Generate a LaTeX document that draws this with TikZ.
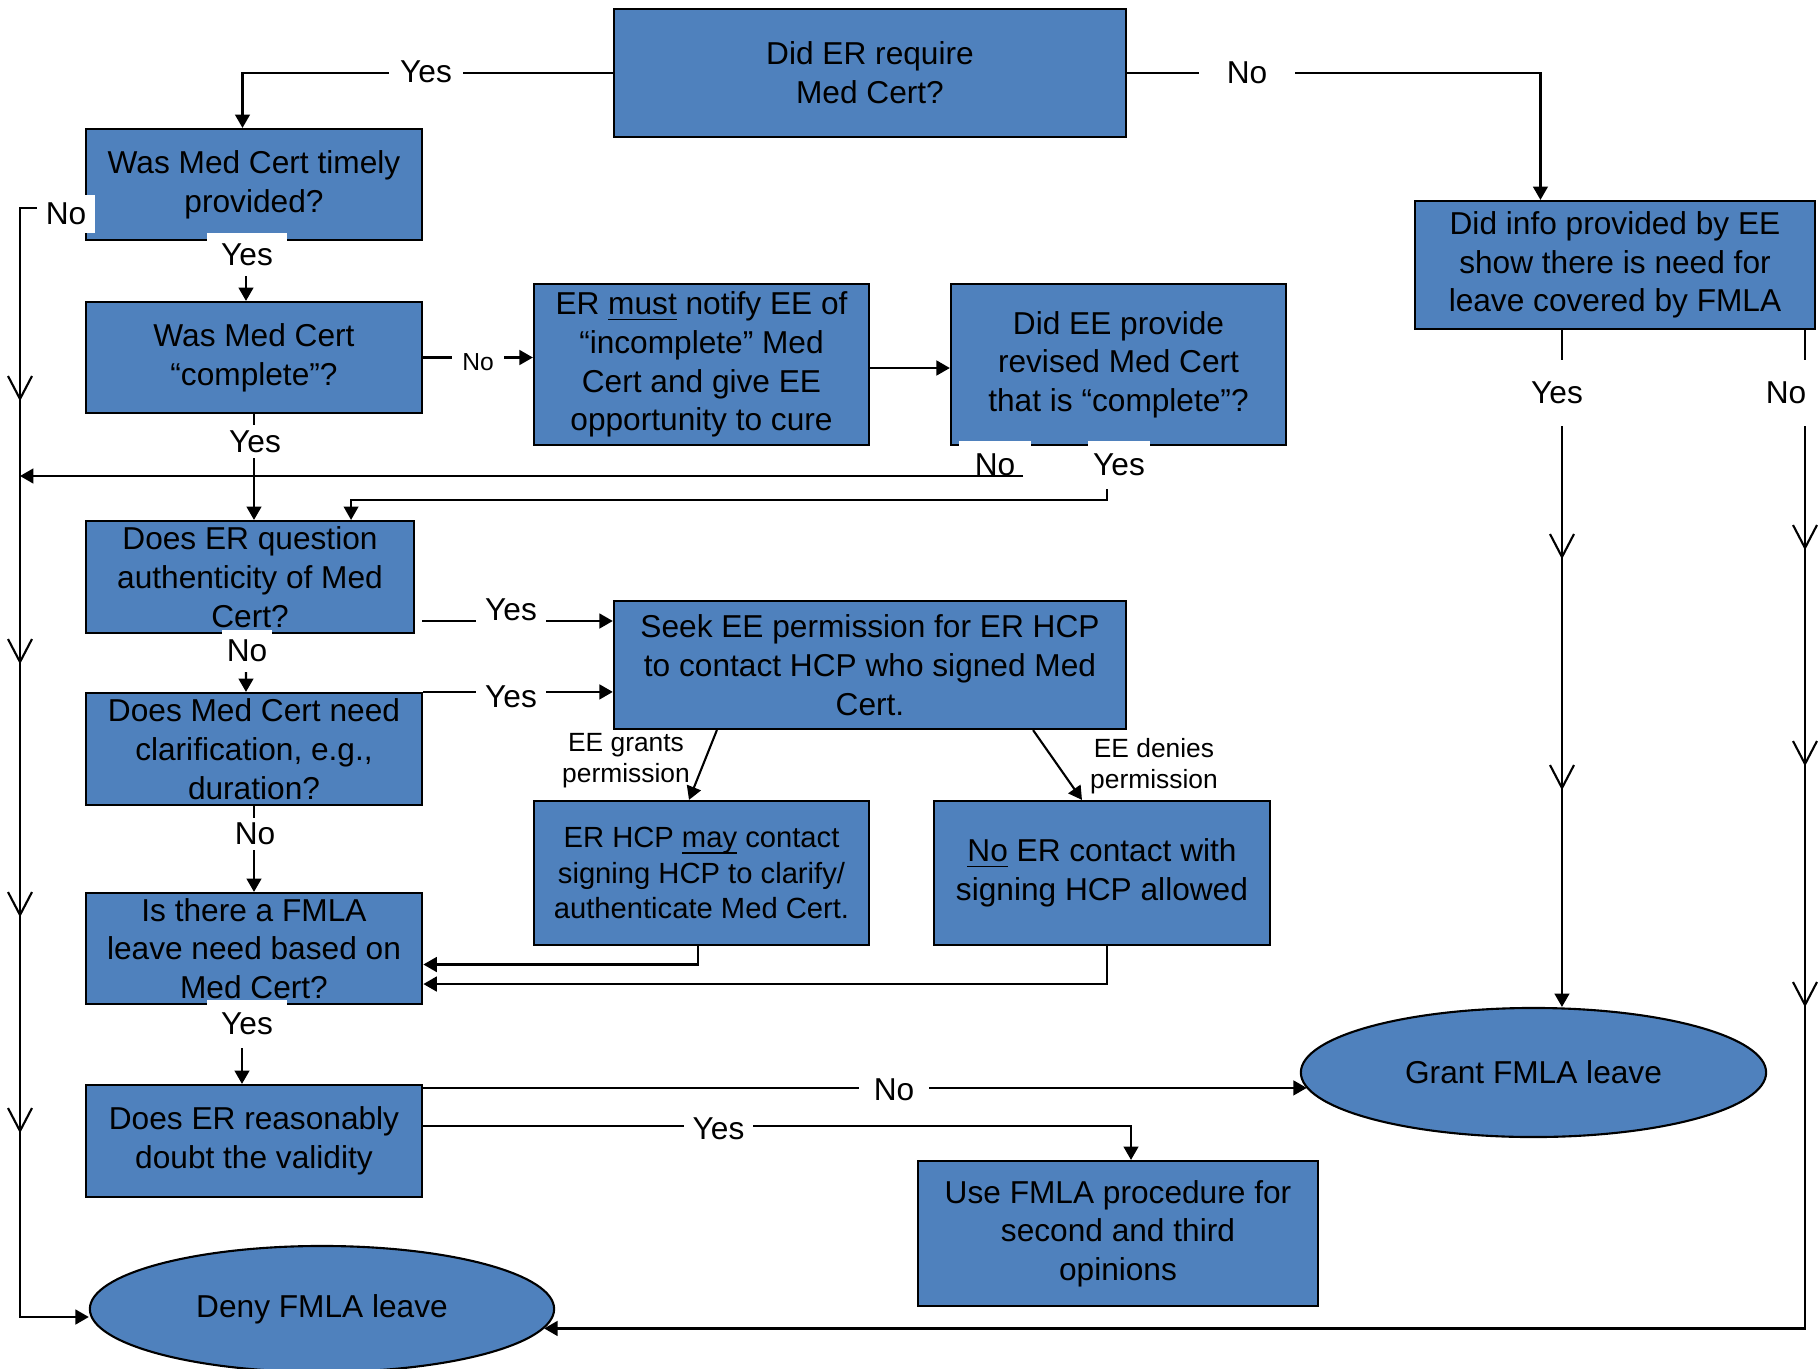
\documentclass[tikz,border=0pt]{standalone}
\usepackage{fontspec}
\setmainfont{Liberation Sans}
\usetikzlibrary{arrows.meta,shapes.geometric}

\definecolor{boxblue}{RGB}{79,129,189}
\newcommand{\downvee}[1]{\draw (#1) ++(-12,-23) -- (#1) -- ++(12,-23);}
\newcommand{\ulword}[1]{\underline{\smash{#1}}}

\begin{document}
\begin{tikzpicture}[x=0.01cm, y=-0.01cm, line width=0.6pt,
	qbox/.style={draw=black, fill=boxblue, align=center, inner sep=0pt, font=\fontsize{9}{11}\selectfont},
	oval/.style={qbox, ellipse},
	arr/.style={-{Triangle[length=3.8pt,width=4.2pt]}},
	lbl/.style={fill=white, inner xsep=2.5pt, inner ysep=1.5pt, font=\fontsize{9}{11}\selectfont},
	patch/.style={lbl, inner sep=0pt},
	permtext/.style={font=\fontsize{7.5}{8.8}\selectfont, align=center}]
	
	\useasboundingbox (0,0) rectangle (1820,1369);
	
	% question boxes
	\node[qbox, minimum width=5.12cm, minimum height=1.28cm] (require) at (870,73) {Did ER require\\Med Cert?};
	\node[qbox, minimum width=3.365cm, minimum height=1.11cm] (timely) at (254,184.5) {Was Med Cert timely\\provided?};
	\node[qbox, minimum width=3.365cm, minimum height=1.11cm] (complete) at (254,357.5) {Was Med Cert\\“complete”?};
	\node[qbox, minimum width=3.35cm, minimum height=1.61cm] (notify) at (701.5,364.5) {ER \ulword{must} notify EE of\\“incomplete” Med\\Cert and give EE\\opportunity to cure};
	\node[qbox, minimum width=3.35cm, minimum height=1.61cm] (revised) at (1118.5,364.5) {Did EE provide\\revised Med Cert\\that is “complete”?};
	\node[qbox, minimum width=3.99cm, minimum height=1.28cm] (infoee) at (1615,265) {Did info provided by EE\\show there is need for\\leave covered by FMLA};
	\node[qbox, minimum width=3.28cm, minimum height=1.12cm] (authentic) at (250,577) {Does ER question\\authenticity of Med\\Cert?};
	\node[qbox, minimum width=5.12cm, minimum height=1.28cm] (seek) at (870,665) {Seek EE permission for ER HCP\\to contact HCP who signed Med\\Cert.};
	\node[qbox, minimum width=3.365cm, minimum height=1.12cm] (clarify) at (254,749) {Does Med Cert need\\clarification, e.g.,\\duration?};
	\node[qbox, minimum width=3.35cm, minimum height=1.44cm, font=\fontsize{8.3}{10}\selectfont] (mayhcp) at (701.5,873) {ER HCP \ulword{may} contact\\signing HCP to clarify/\\authenticate Med Cert.};
	\node[qbox, minimum width=3.36cm, minimum height=1.44cm] (nohcp) at (1102,873) {\ulword{No} ER contact with\\signing HCP allowed};
	\node[qbox, minimum width=3.365cm, minimum height=1.11cm] (basedon) at (254,948.5) {Is there a FMLA\\leave need based on\\Med Cert?};
	\node[qbox, minimum width=3.365cm, minimum height=1.12cm] (doubt) at (254,1141) {Does ER reasonably\\doubt the validity};
	\node[qbox, minimum width=4cm, minimum height=1.45cm] (opinions) at (1118,1233.5) {Use FMLA procedure for\\second and third\\opinions};
	
	% outcomes
	\node[oval, minimum width=4.65cm, minimum height=1.29cm] (grant) at (1533.5,1072.5) {Grant FMLA leave};
	\node[oval, minimum width=4.64cm, minimum height=1.26cm] (deny) at (322,1309) {Deny FMLA leave};
	
	\coordinate (lft) at (20,208); % left return line
	\coordinate (revYes) at (1107,489);
	\coordinate (authYes) at (422,621);
	\coordinate (doubtNo) at ([yshift=-0.04cm]doubt.north east);
	\coordinate (yesLine) at ([xshift=-0.53cm]infoee.south);
	\coordinate (noLine) at ([xshift=1.9cm]infoee.south);
	
	% connectors
	\draw[arr] (require.west) -| ([xshift=-0.115cm]timely.north);
	\draw[arr] (require.east) -| ([xshift=-0.745cm]infoee.north);
	\draw[arr] ([xshift=-0.08cm]timely.south) -- ([xshift=-0.08cm]complete.north);
	\draw[arr] ([xshift=0.17cm]lft) -- (lft) |- ([yshift=-0.08cm]deny.west);
	\draw[arr] (complete.east) -- (complete.east -| notify.west);
	\draw[arr] ([yshift=-0.035cm]notify.east) -- ([yshift=-0.035cm]revised.west);
	\draw[arr] (complete.south) -- (complete.south |- authentic.north);
	\draw[arr, line width=0.45pt] (revYes) -- ++(0,11) -| ([xshift=1.01cm]authentic.north);
	\draw[arr] (authYes) -- (authYes -| seek.west);
	\draw[arr] (clarify.north east) -- (clarify.north east -| seek.west);
	\draw[arr] ([xshift=-0.04cm]authentic.south) -- ([xshift=-0.08cm]clarify.north);
	\draw[arr] (clarify.south) -- (basedon.north);
	\draw[arr] ([xshift=-1.53cm]seek.south) -- ([xshift=-0.125cm]mayhcp.north);
	\draw[arr] ([xshift=1.63cm]seek.south) -- ([xshift=-0.2cm]nohcp.north);
	\draw[arr] ([xshift=-0.035cm]mayhcp.south) |- ([yshift=-0.16cm]basedon.east);
	\draw[arr] ([xshift=0.05cm]nohcp.south) |- ([yshift=-0.355cm]basedon.east);
	\draw[arr] ([xshift=-0.12cm]basedon.south) -- ([xshift=-0.12cm]doubt.north);
	\draw[arr] (doubtNo) -- (doubtNo -| grant.184);
	\draw[arr] ([yshift=0.15cm]doubt.east) -| ([xshift=0.13cm]opinions.north);
	\draw[arr] (yesLine) -- (yesLine |- grant.north);
	\draw[arr] (noLine) |- (deny.355);
	
	% open vees along the long lines
	\foreach \y in {399,662,915,1131} {\downvee{20,\y}}
	\foreach \y in {557,788} {\downvee{1562,\y}}
	\foreach \y in {548,764,1005} {\downvee{1805,\y}}
	
	% labels
	\node[lbl, minimum width=0.74cm] (yesTop) at (426,72) {Yes};
	\node[lbl, minimum width=0.96cm] (noTop) at (1247,73) {No};
	\node[patch, minimum width=0.575cm, minimum height=0.38cm] (noLeft) at (66,214) {No};
	\node[patch, minimum width=0.79cm, minimum height=0.43cm] (yesTimely) at (247,254.5) {Yes};
	\node[lbl, font=\fontsize{7}{8}\selectfont, inner xsep=2.8pt] (noSmall) at (478,362) {No};
	\node[lbl] (yesComplete) at (255,441.5) {Yes};
	\node[patch, minimum width=0.71cm, minimum height=0.48cm] (noRevised) at (995,465) {No};
	\node[patch, minimum width=0.62cm, minimum height=0.48cm] (yesRevised) at (1119,465) {Yes};
	\node[lbl, minimum width=0.65cm] (yesAuth) at (511,610) {Yes};
	\node[lbl, minimum width=0.65cm] (yesClar) at (511,697) {Yes};
	\node[patch, minimum width=0.5cm, minimum height=0.42cm] (noAuth) at (247,651) {No};
	\node[lbl] (noClar) at (255,834) {No};
	\node[patch, minimum width=0.8cm, minimum height=0.48cm] (yesBased) at (247,1024) {Yes};
	\node[lbl, minimum width=0.7cm] (noDoubt) at (894,1090) {No};
	\node[lbl, minimum width=0.63cm] (yesDoubt) at (718.5,1129) {Yes};
	\node[lbl, minimum height=0.65cm] (yesInfo) at (1557,393) {Yes};
	\node[lbl, minimum width=0.8cm, minimum height=0.65cm] (noInfo) at (1786,393) {No};
	\node[permtext] (grants) at (626,761) {EE grants\\permission};
	\node[permtext] (denies) at (1154,766) {EE denies\\permission};
	
	\draw[arr] (1023,476) -- (lft |- 0,476); % revised no, back to the left line
	
\end{tikzpicture}
\end{document}
